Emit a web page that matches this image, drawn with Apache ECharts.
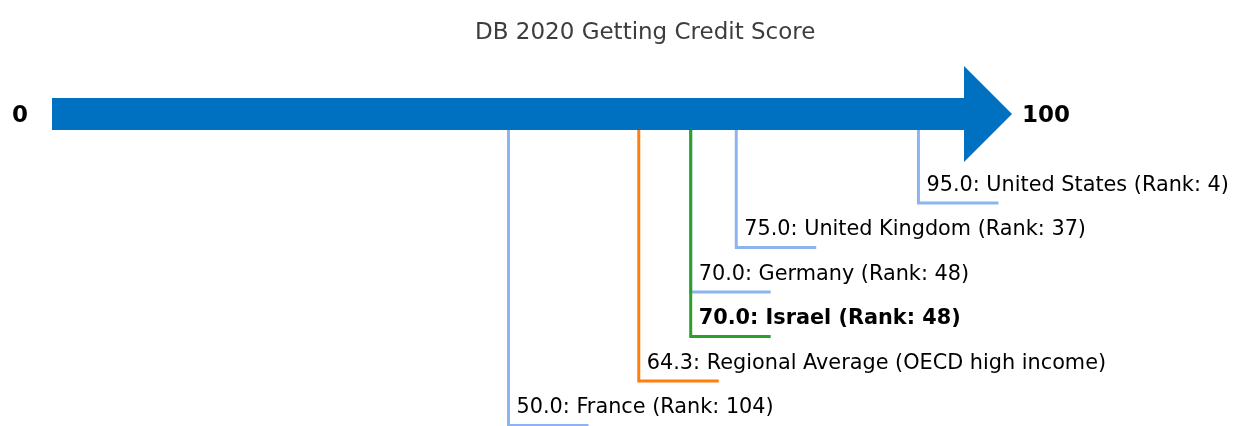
<!DOCTYPE html>
<html>
<head>
<meta charset="utf-8">
<title>DB 2020 Getting Credit Score</title>
<script src="https://cdn.jsdelivr.net/npm/echarts@6.0.0/dist/echarts.min.js"></script>
<style>
  html, body { margin: 0; padding: 0; background: #fff; }
  #chart { width: 1236px; height: 426px; }
</style>
</head>
<body>
<div id="chart"></div>
<script>
// economies shown under the score arrow
const economies = ['United States (Rank: 4)', 'United Kingdom (Rank: 37)', 'Germany (Rank: 48)',
  'Israel (Rank: 48)', 'Regional Average (OECD high income)', 'France (Rank: 104)'];
const scores = [95.0, 75.0, 70.0, 70.0, 64.3, 50.0];
const levels = [2, 3, 4, 5, 6, 7];          // row under the arrow
const kinds = ['peer', 'peer', 'peer', 'focus', 'region', 'peer'];

// ends of the scale
const scaleMin = 0;
const scaleMax = 100;
const endLabels = ['0', '100'];

const colors = { peer: '#8cb5ef', focus: '#2ca02c', region: '#ff7f0e' };
const font = 'DejaVu Sans';

var chart = echarts.init(document.getElementById('chart'));

var markerData = scores.map(function (s, i) {
  return [s, levels[i], economies[i], kinds[i]];
});

var option = {
  animation: false,
  title: {
    text: 'DB 2020 Getting Credit Score',
    left: 470,
    top: 17,
    textStyle: { fontFamily: font, fontSize: 23, fontWeight: 'normal', color: '#3d3d3d' }
  },
  grid: { left: 53, width: 911, top: 114, height: 311.5 },
  xAxis: { type: 'value', min: scaleMin, max: scaleMax, show: false },
  yAxis: { type: 'value', min: 0, max: 7, inverse: true, show: false },
  series: [
    {
      // leader lines and labels
      type: 'custom',
      z: 1,
      data: markerData,
      renderItem: function (params, api) {
        var score = api.value(0);
        var lvl = api.value(1);
        var item = markerData[params.dataIndex];
        var color = colors[item[3]];
        var top = api.coord([score, 0]);
        var bot = api.coord([score, lvl]);
        return {
          type: 'group',
          children: [
            {
              type: 'polyline',
              shape: { points: [[top[0], top[1]], [bot[0], bot[1]], [bot[0] + 80, bot[1]]] },
              style: { stroke: color, lineWidth: 3, fill: null }
            },
            {
              type: 'text',
              x: bot[0] + 8,
              y: bot[1] - 7,
              style: {
                text: score.toFixed(1) + ': ' + item[2],
                fill: '#000',
                font: (item[3] === 'focus' ? 'bold ' : '') + '20.8px "' + font + '"',
                align: 'left',
                verticalAlign: 'bottom'
              }
            }
          ]
        };
      }
    },
    {
      // the score arrow
      type: 'custom',
      z: 2,
      data: [[scaleMin, scaleMax]],
      renderItem: function (params, api) {
        var s = api.coord([api.value(0), 0]);
        var e = api.coord([api.value(1), 0]);
        var y = s[1];
        var half = 16, headHalf = 48, headLen = 48;
        return {
          type: 'group',
          children: [
            {
              type: 'polygon',
              shape: {
                points: [
                  [s[0] - 1, y - half], [e[0], y - half], [e[0], y - headHalf],
                  [e[0] + headLen, y], [e[0], y + headHalf], [e[0], y + half], [s[0] - 1, y + half]
                ]
              },
              style: { fill: '#0070c0' }
            },
            {
              type: 'text',
              x: s[0] - 25, y: y + 2,
              style: { text: endLabels[0], fill: '#000', font: 'bold 23px "' + font + '"', align: 'right', verticalAlign: 'middle' }
            },
            {
              type: 'text',
              x: e[0] + headLen + 10, y: y + 2,
              style: { text: endLabels[1], fill: '#000', font: 'bold 23px "' + font + '"', align: 'left', verticalAlign: 'middle' }
            }
          ]
        };
      }
    }
  ]
};

chart.setOption(option);
</script>
</body>
</html>
